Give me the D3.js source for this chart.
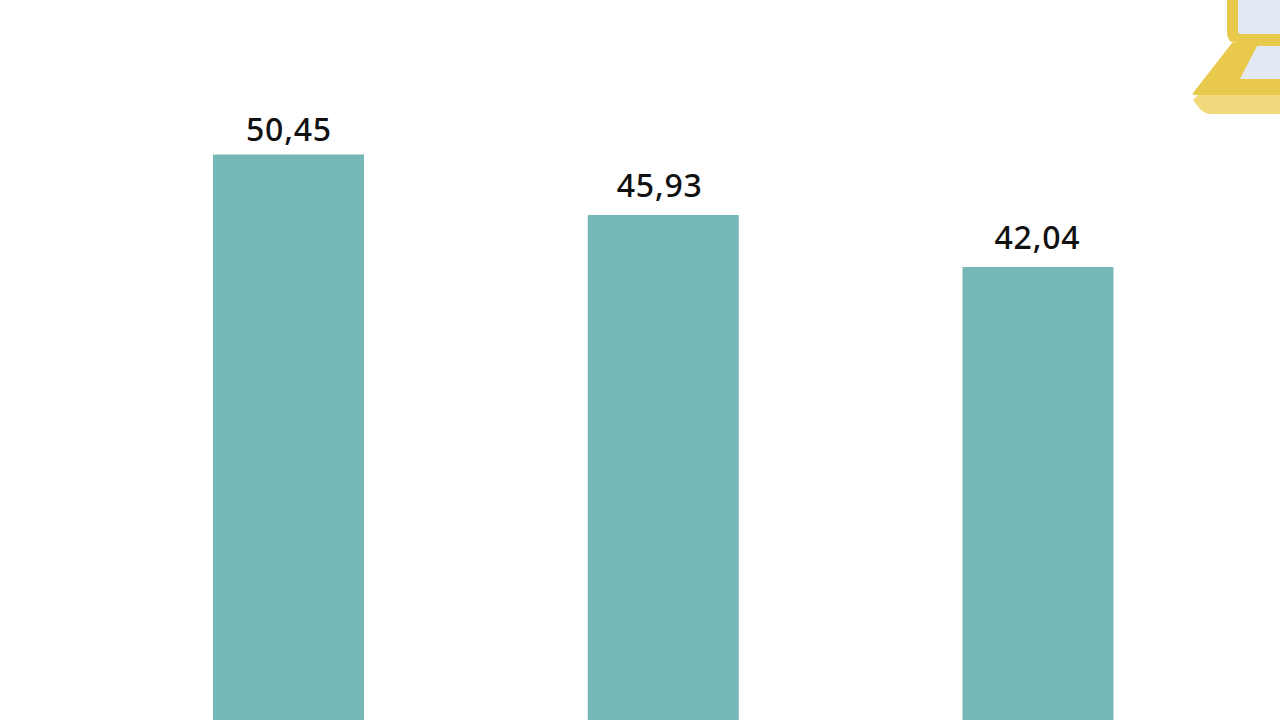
<!DOCTYPE html>
<html>
<head>
<meta charset="utf-8">
<script src="https://cdn.jsdelivr.net/npm/d3@7"></script>
<style>
  html, body { margin: 0; padding: 0; background: #fff; }
  svg { display: block; }
</style>
</head>
<body>
<div id="chart"></div>
<script>
const categories = ['A', 'B', 'C'];
const values = [50.45, 45.93, 42.04];
const labels = ['50,45', '45,93', '42,04'];

const width = 1280;
const height = 720;

const svg = d3.select('#chart').append('svg').attr('width', width).attr('height', height);

// bars run off the bottom of the crop, so the baseline sits below the frame
const y = d3.scaleLinear().domain([0, 50.45]).range([829.5, 154.5]);
const x = d3.scalePoint().domain(categories).range([288.5, 1038]);
const barWidth = 151;

svg.selectAll('.bar').data(values).join('rect')
  .attr('class', 'bar')
  .attr('x', (d, i) => x(categories[i]) - barWidth / 2)
  .attr('y', d => y(d))
  .attr('width', barWidth)
  .attr('height', d => y(0) - y(d))
  .attr('fill', '#76b7b7');

// labels are not quite centred on their bars in the original
const labelShiftX = [0.5, -3.5, -0.5];
const labelGap = [14, 18, 18];

svg.selectAll('.label').data(values).join('text')
  .attr('class', 'label')
  .attr('x', (d, i) => x(categories[i]) + labelShiftX[i])
  .attr('y', (d, i) => y(d) - labelGap[i])
  .attr('text-anchor', 'middle')
  .attr('font-family', '"Noto Sans", sans-serif')
  .attr('font-size', 32)
  .attr('font-weight', 500)
  .attr('letter-spacing', 0.8)
  .attr('fill', '#111')
  .text((d, i) => labels[i]);

// laptop icon, cut off by the top right corner
const icon = svg.append('g');
icon.append('path')
  .attr('d', 'M1198,95 L1280,95 L1280,114 L1212,114 Q1204,114 1199,108 L1193,100 Z')
  .attr('fill', '#f2d97e');
icon.append('path')
  .attr('d', 'M1232,43 L1280,43 L1280,95 L1197,95 Q1191,95 1193,93 Z')
  .attr('fill', '#e8c94b');
icon.append('path')
  .attr('d', 'M1257,46 L1280,46 L1280,79 L1240,79 Z')
  .attr('fill', '#e3e9f4');
icon.append('path')
  .attr('d', 'M1227,0 L1280,0 L1280,43 L1237,43 Q1227,43 1227,33 Z')
  .attr('fill', '#e8c94b');
icon.append('path')
  .attr('d', 'M1238,0 L1280,0 L1280,34 L1241,34 Q1238,34 1238,31 Z')
  .attr('fill', '#e3e9f4');
</script>
</body>
</html>
